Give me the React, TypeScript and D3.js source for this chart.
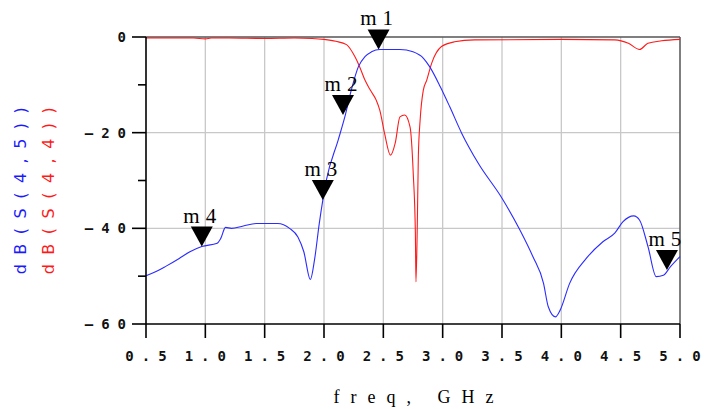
import * as d3 from 'd3';
import React from 'react';

const blueFreq = [0.5, 0.58, 0.67, 0.78, 0.87, 0.97, 1.1, 1.13, 1.17, 1.22, 1.32, 1.43, 1.61, 1.71, 1.78, 1.83, 1.885, 1.92, 1.96, 1.99, 2.02, 2.12, 2.18, 2.23, 2.29, 2.345, 2.4, 2.47, 2.64, 2.75, 2.84, 2.89, 2.98, 3.06, 3.16, 3.3, 3.5, 3.65, 3.76, 3.85, 3.89, 3.95, 3.99, 4.07, 4.21, 4.35, 4.45, 4.52, 4.61, 4.66, 4.73, 4.8, 4.86, 4.92, 5.0];
const blueDb = [-49.9, -49.1, -47.9, -46.3, -44.9, -43.8, -43.1, -42.1, -39.8, -40.0, -39.5, -39.0, -39.0, -40.0, -41.8, -44.9, -50.7, -46.6, -39.0, -34.1, -29.9, -21.5, -16.3, -11.1, -6.2, -4.1, -3.1, -2.6, -2.6, -3.1, -4.5, -6.2, -10.4, -14.6, -20.1, -26.4, -33.7, -40.3, -45.9, -51.5, -56.4, -58.5, -57.1, -51.5, -46.3, -42.8, -41.0, -38.6, -37.4, -38.3, -43.8, -50.1, -49.8, -48.0, -45.9];

const redFreq = [0.5, 0.9, 1.0, 1.05, 1.2, 1.5, 1.75, 1.9, 2.0, 2.1, 2.19, 2.26, 2.3, 2.345, 2.39, 2.44, 2.47, 2.51, 2.56, 2.6, 2.64, 2.68, 2.725, 2.752, 2.77, 2.775, 2.786, 2.795, 2.81, 2.837, 2.866, 2.907, 2.99, 3.1, 3.27, 4.0, 4.45, 4.565, 4.66, 4.73, 4.845, 5.0];
const redDb = [-0.2, -0.2, -0.4, -0.2, -0.2, -0.3, -0.2, -0.3, -0.5, -0.9, -1.6, -4.1, -6.2, -9.0, -11.1, -13.2, -15.3, -20.1, -24.7, -22.2, -16.7, -16.3, -18.8, -28.5, -41.0, -51.2, -39.7, -25.0, -17.4, -11.1, -9.0, -5.5, -2.0, -1.0, -0.6, -0.5, -0.6, -1.3, -2.6, -1.3, -0.8, -0.5];

const markerNames = ['m1', 'm2', 'm3', 'm4', 'm5'];
const markerFreq = [2.46, 2.16, 1.99, 0.97, 4.89];
const markerDb = [-2.6, -16.3, -34.1, -43.8, -48.7];

const xTicks = [0.5, 1.0, 1.5, 2.0, 2.5, 3.0, 3.5, 4.0, 4.5, 5.0];
const yTicks = [0, -20, -40, -60];
const yMinorTicks = [-10, -30, -50];

const width = 715;
const height = 409;
const margin = { top: 37, right: 35, bottom: 85, left: 146 };

export default function App() {
  const x = d3.scaleLinear().domain([0.5, 5.0]).range([margin.left, width - margin.right]);
  const y = d3.scaleLinear().domain([0, -60]).range([margin.top, height - margin.bottom]);

  const line = d3
    .line<[number, number]>()
    .x((d) => x(d[0]))
    .y((d) => y(d[1]))
    .curve(d3.curveMonotoneX);

  const blueLine = line(blueFreq.map((f, i) => [f, blueDb[i]]));
  const redLine = line(redFreq.map((f, i) => [f, redDb[i]]));

  const [x0, x1] = x.range();
  const [y0, y1] = y.range();
  const tickFont = '"DejaVu Sans Mono", monospace';
  const ls = 8;

  return (
    <svg width={width} height={height} style={{ position: 'absolute', left: 0, top: 0, background: '#fff' }}>
      {/* grid */}
      <g stroke="#c8c8c8" strokeWidth={1.3}>
        {xTicks.slice(1, -1).map((t) => (
          <line key={t} x1={x(t)} x2={x(t)} y1={y0} y2={y1} />
        ))}
        {yTicks.slice(1, -1).map((t) => (
          <line key={t} x1={x0} x2={x1} y1={y(t)} y2={y(t)} />
        ))}
      </g>

      {/* frame */}
      <line x1={x0} x2={x1} y1={y0} y2={y0} stroke="#555" strokeWidth={1.5} />
      <line x1={x1} x2={x1} y1={y0} y2={y1} stroke="#555" strokeWidth={1.5} />

      {/* traces */}
      <path d={redLine ?? ''} fill="none" stroke="#ff1a1a" strokeWidth={1.1} />
      <path d={blueLine ?? ''} fill="none" stroke="#2b2bff" strokeWidth={1.1} />

      {/* axes */}
      <g stroke="#000" strokeWidth={1.6}>
        <line x1={x0} x2={x0} y1={y0} y2={y1} />
        <line x1={x0} x2={x1} y1={y1} y2={y1} />
        {xTicks.map((t) => (
          <line key={t} x1={x(t)} x2={x(t)} y1={y1} y2={y1 + 14} />
        ))}
        {yTicks.map((t) => (
          <line key={t} x1={x0 - 14} x2={x0} y1={y(t)} y2={y(t)} />
        ))}
        {yMinorTicks.map((t) => (
          <line key={t} x1={x0 - 8} x2={x0} y1={y(t)} y2={y(t)} />
        ))}
      </g>

      {/* tick labels */}
      <g fontFamily={tickFont} fontSize={14} fontWeight={600} fill="#111" style={{ letterSpacing: `${ls}px` }}>
        {xTicks.map((t) => (
          <text key={t} x={x(t) + ls / 2} y={y1 + 37} textAnchor="middle">
            {t.toFixed(1)}
          </text>
        ))}
        {yTicks.map((t) => (
          <text key={t} x={x0 - 20 + ls} y={y(t) + 5} textAnchor="end">
            {t === 0 ? '0' : `\u2013${Math.abs(t)}`}
          </text>
        ))}
      </g>

      {/* axis titles */}
      <g fontFamily='"DejaVu Sans", sans-serif' fontSize={16} style={{ letterSpacing: '9.5px' }}>
        <text transform="translate(26,186) rotate(-90)" textAnchor="middle" fill="#1a1aff">
          dB(S(4,5))
        </text>
        <text transform="translate(54,186) rotate(-90)" textAnchor="middle" fill="#ff1a1a">
          dB(S(4,4))
        </text>
      </g>
      <text
        x={419}
        y={403}
        textAnchor="middle"
        fontFamily='"Liberation Serif", serif'
        fontSize={18}
        style={{ letterSpacing: '11px' }}
      >
        freq, GHz
      </text>

      {/* markers */}
      {markerNames.map((m, i) => {
        const px = x(markerFreq[i]);
        const py = y(markerDb[i]);
        return (
          <g key={m} transform={`translate(${px},${py})`}>
            <path d="M0,0L-11,-20L11,-20Z" fill="#000" />
            <text
              x={1}
              y={-24}
              textAnchor="middle"
              fontFamily='"Liberation Serif", serif'
              fontSize={21}
              style={{ letterSpacing: '6px' }}
            >
              {m}
            </text>
          </g>
        );
      })}
    </svg>
  );
}
